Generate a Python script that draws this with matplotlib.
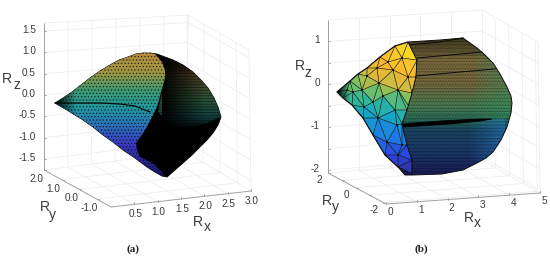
import matplotlib
matplotlib.use("Agg")
import matplotlib.pyplot as plt
import numpy as np
from matplotlib.colors import LinearSegmentedColormap
from matplotlib.patches import Polygon
from matplotlib.tri import Triangulation

plt.rcParams['font.family'] = ['Liberation Sans', 'DejaVu Sans']
plt.rcParams['hatch.linewidth'] = 0.5

## ticks
a_xticks = [0.5, 1.0, 1.5, 2.0, 2.5, 3.0]
a_yticks = [2.0, 1.0, 0.0, -1.0]
a_zticks = [1.5, 1.0, 0.5, 0.0, -0.5, -1.0, -1.5]
a_xlabels = ['0.5', '1.0', '1.5', '2.0', '2.5', '3.0']
a_ylabels = ['2.0', '1.0', '0.0', '-1.0']
a_zlabels = ['1.5', '1.0', '0.5', '0.0', '-0.5', '-1.0', '-1.5']
b_xticks = [0, 1, 2, 3, 4, 5]
b_yticks = [2, 1, 0, -1, -2]
b_zticks = [1, 0.5, 0, -0.5, -1, -1.5, -2]
b_xlabels = ['0', '1', '2', '3', '4', '5']
b_ylabels = ['2', '', '0', '', '-2']
b_zlabels = ['1', '', '0', '', '-1', '', '-2']

## surface (a), outlines as seen in the picture
a_outline = [(55, 103), (63, 98), (72, 92), (81, 85), (90, 78), (100, 71), (110, 65), (119, 60), (128, 57),
             (136, 54), (143, 53), (150, 53), (157, 54), (165, 57), (173, 60), (183, 65), (193, 72), (201, 80),
             (208, 88), (214, 98), (218, 107), (221, 117), (218, 125), (213, 133), (207, 140), (200, 147),
             (192, 155), (183, 163), (175, 170), (167, 177), (162, 176), (155, 172), (147, 167), (135, 158),
             (123, 150), (113, 142), (103, 135), (93, 127), (83, 120), (75, 115), (67, 110), (60, 106)]
a_face = [(55, 103), (63, 98), (72, 92), (81, 85), (90, 78), (100, 71), (110, 65), (119, 60), (128, 57),
          (136, 54), (143, 53), (150, 53), (155, 54), (162, 62), (165, 70), (165, 78), (163, 85), (160, 96),
          (157, 107), (152, 117), (147, 127), (141, 136), (136, 143), (137, 150), (140, 157), (148, 161),
          (155, 165), (162, 172), (165, 177), (155, 172), (147, 167), (135, 158), (123, 150), (113, 142),
          (103, 135), (93, 127), (83, 120), (75, 115), (67, 110), (60, 106)]
a_band = [(166, 72), (170, 60), (183, 65), (193, 72), (201, 80), (208, 88), (214, 98), (218, 107), (221, 117),
          (205, 124), (188, 128), (170, 124), (158, 112)]
a_crease = [(55, 103), (75, 103), (100, 103), (120, 104), (135, 106), (150, 112)]
a_face_y = [50, 72, 90, 108, 125, 145, 178]
a_face_c = ['#b88c42', '#a09640', '#3f9a70', '#1f98a0', '#2a72b8', '#3a38c0', '#1c1460']
a_band_y = [55, 75, 100, 118, 130]
a_band_c = ['#201808', '#56462a', '#2a5238', '#123c3c', '#000000']

## surface (b), mesh vertices of the coarse side as seen in the picture
b_outline = [(337, 92), (350, 81), (358, 74), (367, 68), (380, 57), (395, 46), (408, 42), (440, 40), (463, 38),
             (470, 43), (477, 48), (485, 55), (493, 63), (500, 74), (507, 87), (511, 96), (512, 103), (511, 113),
             (507, 127), (501, 140), (493, 152), (486, 158), (477, 163), (463, 170), (442, 174), (412, 175),
             (405, 175), (398, 167), (385, 155), (373, 135), (363, 118), (352, 105), (343, 98)]
b_face = [(337, 92), (350, 81), (358, 74), (367, 68), (380, 57), (395, 46), (408, 42), (417, 60), (416, 77),
          (412, 93), (407, 110), (402, 124), (407, 145), (412, 160), (412, 174), (398, 167), (385, 155),
          (373, 135), (363, 118), (352, 105), (343, 98)]
tri_x = [337, 350, 358, 367, 380, 395, 408, 417, 416, 412, 407, 402, 407, 412, 412, 398, 385, 373, 363, 352, 343,
         367, 379, 393, 402, 383, 398, 408, 373, 364, 378, 395, 397, 387, 402, 398, 353, 347, 362, 388, 377, 410]
tri_y = [92, 81, 74, 68, 57, 46, 42, 60, 77, 93, 110, 124, 145, 160, 174, 167, 155, 135, 118, 105, 98,
         76, 83, 70, 58, 96, 90, 77, 102, 107, 118, 110, 125, 142, 145, 155, 92, 90, 90, 62, 68, 108]
tri_v = [0.48, 0.62, 0.68, 0.75, 0.85, 0.92, 1.0, 0.95, 0.88, 0.72, 0.52, 0.4, 0.2, 0.1, 0.02, 0.06, 0.14,
         0.28, 0.36, 0.46, 0.5, 0.78, 0.72, 0.86, 0.95, 0.58, 0.68, 0.85, 0.48, 0.42, 0.36, 0.44, 0.36, 0.2,
         0.2, 0.12, 0.58, 0.58, 0.58, 0.92, 0.85, 0.5]
b_body_y = [38, 60, 85, 105, 120, 130, 150, 176]
b_body_c = ['#3c3820', '#7a6a3c', '#74683e', '#4a7a50', '#2a6a58', '#1a4560', '#1a3a68', '#1c1a58']
b_dark = [(402, 124), (440, 121), (480, 119), (492, 119), (480, 121), (450, 124), (403, 127)]
b_lines = [[(417, 58), (450, 55), (482, 52)], [(395, 46), (440, 42), (463, 38)], [(416, 76), (460, 72), (495, 69)]]
b_rim_blue = [(470, 121), (509, 118), (507, 127), (501, 140), (493, 152), (486, 158), (477, 163), (470, 167)]
b_rim_green = [(475, 46), (485, 55), (493, 63), (500, 74), (507, 87), (511, 96), (512, 103), (511, 113),
               (509, 118), (475, 120)]
parula = ['#352a87', '#2a45e0', '#1f78e8', '#14a4c8', '#2eb79a', '#7fc060', '#d0bb40', '#fbb52e', '#f8e020']

## box corners: front, right, left, back, on the floor and at the top
a_box = {'lims': (0.0, 3.0, -1.8, 2.0, -1.76, 1.69),
         'floor': [(111, 207), (251, 191), (44, 170), (186, 152)],
         'top': [(111, 62), (249, 50), (44, 23), (188, 15)]}
b_box = {'lims': (0.0, 5.0, -2.2, 2.0, -2.07, 1.5),
         'floor': [(386, 204), (540, 193), (328, 173), (482, 160)],
         'top': [(386, 55), (538, 42), (328, 20), (482, 10)]}

GRID = '#eeeeee'
AXIS = '#a0a0a0'
TEXT = '#3a3a3a'


def proj(box, x, y, z):
    x0, x1, y0, y1, z0, z1 = box['lims']
    u, v, w = (x - x0) / (x1 - x0), (y - y0) / (y1 - y0), (z - z0) / (z1 - z0)
    weights = [(1 - u) * (1 - v), u * (1 - v), (1 - u) * v, u * v]
    fl = np.dot(weights, np.array(box['floor'], float))
    tp = np.dot(weights, np.array(box['top'], float))
    return fl + w * (tp - fl)


def seg(ax, box, p, q, color=GRID, lw=0.6, zorder=1):
    a, b = proj(box, *p), proj(box, *q)
    ax.plot([a[0], b[0]], [a[1], b[1]], color=color, lw=lw, zorder=zorder, solid_capstyle='butt')


def draw_box(ax, box, xt, yt, zt, xl, yl, zl, off_x, off_y, zx):
    x0, x1, y0, y1, z0, z1 = box['lims']
    for x in xt:
        seg(ax, box, (x, y1, z0), (x, y1, z1))
        seg(ax, box, (x, y0, z0), (x, y1, z0))
    for y in yt:
        seg(ax, box, (x1, y, z0), (x1, y, z1))
        seg(ax, box, (x0, y, z0), (x1, y, z0))
    for z in zt:
        seg(ax, box, (x0, y1, z), (x1, y1, z))
        seg(ax, box, (x1, y0, z), (x1, y1, z))
    seg(ax, box, (x1, y1, z0), (x1, y1, z1))
    seg(ax, box, (x0, y1, z1), (x1, y1, z1))
    seg(ax, box, (x1, y0, z1), (x1, y1, z1))
    seg(ax, box, (x1, y0, z0), (x1, y0, z1))
    seg(ax, box, (x0, y1, z0), (x0, y1, z1), AXIS, 0.7, 2)
    seg(ax, box, (x0, y0, z0), (x0, y1, z0), AXIS, 0.7, 2)
    seg(ax, box, (x0, y0, z0), (x1, y0, z0), AXIS, 0.7, 2)
    for x, s in zip(xt, xl):
        p = proj(box, x, y0, z0)
        ax.plot([p[0], p[0]], [p[1], p[1] - 2], color=AXIS, lw=0.6, zorder=2)
        ax.text(p[0] + off_x[0], p[1] + off_x[1], s, ha='center', va='center', fontsize=7.2, color=TEXT)
    for y, s in zip(yt, yl):
        p = proj(box, x0, y, z0)
        ax.plot([p[0], p[0] + 2], [p[1], p[1]], color=AXIS, lw=0.6, zorder=2)
        ax.text(p[0] + off_y[0], p[1] + off_y[1], s, ha='center', va='center', fontsize=7.2, color=TEXT)
    for z, s in zip(zt, zl):
        p = proj(box, x0, y1, z)
        ax.plot([p[0], p[0] + 2], [p[1], p[1]], color=AXIS, lw=0.6, zorder=2)
        ax.text(zx, p[1] - 1, s, ha='right', va='center', fontsize=7.2, color=TEXT)


def ramp(ax, poly, stops, colors, zorder, horizontal=False):
    # gradient image cut to a polygon
    pos = (np.array(stops, float) - stops[0]) / (stops[-1] - stops[0])
    cmap = LinearSegmentedColormap.from_list('r', list(zip(pos, colors)))
    xs = [p[0] for p in poly]
    ys = [p[1] for p in poly]
    if horizontal:
        g = np.linspace(0, 1, 256)[None, :]
        ext = (stops[0], stops[-1], max(ys), min(ys))
    else:
        g = np.linspace(0, 1, 256)[:, None]
        ext = (min(xs), max(xs), stops[-1], stops[0])
    im = ax.imshow(g, cmap=cmap, vmin=0, vmax=1, extent=ext, origin='upper', aspect='auto',
                   interpolation='bilinear', zorder=zorder)
    patch = Polygon(poly, closed=True, transform=ax.transData, fc='none', ec='none')
    ax.add_patch(patch)
    im.set_clip_path(patch)


def texture(ax, poly, hatch, color, zorder):
    ax.add_patch(Polygon(poly, closed=True, fc='none', ec=color, lw=0, hatch=hatch, zorder=zorder))


fig = plt.figure(figsize=(5.5, 2.58), dpi=100)
ax = fig.add_axes([0, 0, 1, 1])
ax.set_axis_off()

draw_box(ax, a_box, a_xticks, a_yticks, a_zticks, a_xlabels, a_ylabels, a_zlabels, (1, 10), (-8, 9), 36)
draw_box(ax, b_box, b_xticks, b_yticks, b_zticks, b_xlabels, b_ylabels, b_zlabels, (4, 8), (-9, 7), 320)

# surface (a)
ax.add_patch(Polygon(a_outline, closed=True, fc='black', ec='black', lw=0.6, zorder=3))
ramp(ax, a_band, a_band_y, a_band_c, 4)
texture(ax, a_band, '------', (0, 0, 0, 0.6), 5)
ramp(ax, a_band, [162, 205], [(0, 0, 0, 1), (0, 0, 0, 0)], 6, horizontal=True)
ramp(ax, a_face, a_face_y, a_face_c, 7)
texture(ax, a_face, '.....', (0, 0, 0, 0.7), 8)
ramp(ax, a_face, [55, 76], [(0, 0, 0, 1), (0, 0, 0, 0)], 9, horizontal=True)
ax.plot([p[0] for p in a_crease], [p[1] for p in a_crease], color='#0a0a0a', lw=0.9, zorder=10)

# surface (b)
ramp(ax, b_outline, b_body_y, b_body_c, 3)
ramp(ax, b_rim_blue, [468, 505], [(0.15, 0.5, 0.8, 0), (0.15, 0.5, 0.8, 0.6)], 3.5, horizontal=True)
ramp(ax, b_rim_green, [468, 510], [(0.2, 0.6, 0.4, 0), (0.2, 0.6, 0.4, 0.5)], 3.5, horizontal=True)
texture(ax, b_outline, '-----', (0, 0, 0, 0.3), 4)
texture(ax, b_outline, '......', (0, 0, 0, 0.22), 4)
ax.add_patch(Polygon(b_outline, closed=True, fc='none', ec='#101010', lw=0.7, zorder=5))
ax.add_patch(Polygon(b_dark, closed=True, fc='black', ec='black', lw=0.6, zorder=5))
for line in b_lines:
    ax.plot([p[0] for p in line], [p[1] for p in line], color='#0a0a0a', lw=0.7, zorder=5)

cmap_p = LinearSegmentedColormap.from_list('parula_like', parula)
tri = Triangulation(tri_x, tri_y)
patch = Polygon(b_face, closed=True, transform=ax.transData, fc='none', ec='none')
ax.add_patch(patch)
tc = ax.tripcolor(tri, tri_v, cmap=cmap_p, shading='flat', vmin=0, vmax=1, zorder=6)
tc.set_clip_path(patch)
for ln in ax.triplot(tri, color='#141414', lw=0.45, zorder=7):
    ln.set_clip_path(patch)
ramp(ax, b_face, [337, 350], [(0, 0, 0, 0.95), (0, 0, 0, 0)], 7.5, horizontal=True)
ax.add_patch(Polygon(b_face, closed=True, fc='none', ec='#101010', lw=0.7, zorder=8))

# axis names
for x, y, s in [(7, 79, 'R'), (45, 207, 'R'), (198, 222, 'R'), (300, 66, 'R'), (327, 201, 'R'), (469, 218, 'R')]:
    ax.text(x, y, s, ha='center', va='center', fontsize=10, color=TEXT)
for x, y, s in [(17, 85, 'z'), (52, 215, 'y'), (207, 227, 'x'), (308, 73, 'z'), (335, 207, 'y'), (477, 223, 'x')]:
    ax.text(x, y, s, ha='center', va='center', fontsize=10, color=TEXT)

for x, s in [(133, '(a)'), (421, '(b)')]:
    ax.text(x, 249, s, ha='center', va='center', fontsize=8, fontweight='bold', color='#202020',
            family=['Liberation Serif', 'DejaVu Serif'])

ax.set_xlim(0, 550)
ax.set_ylim(258, 0)
fig.savefig('out.png', dpi=100)
